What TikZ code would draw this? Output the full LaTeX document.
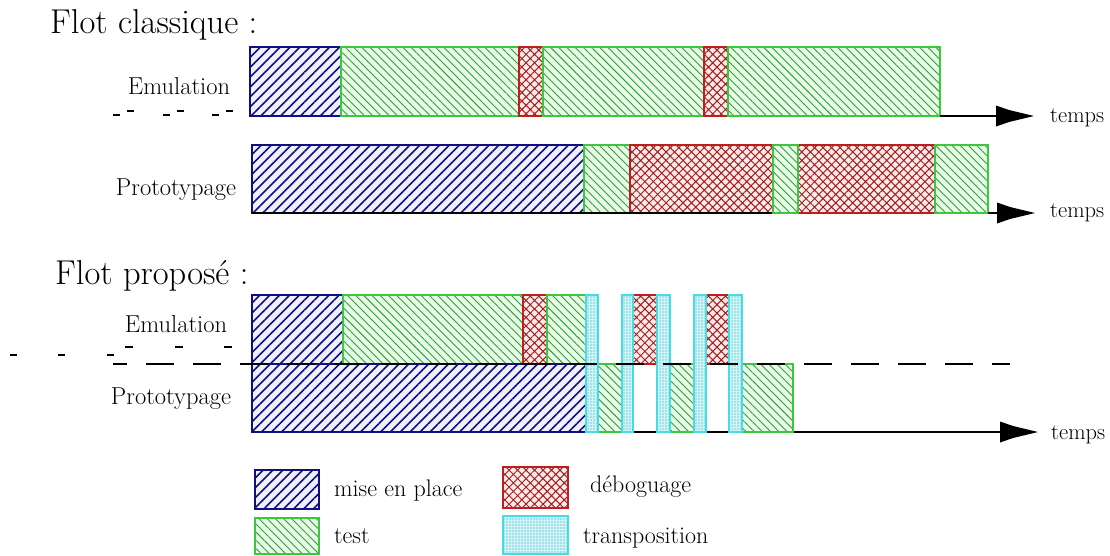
\documentclass[tikz,border=0pt]{standalone}
\usepackage{fontspec}
\usetikzlibrary{patterns.meta}
\definecolor{navyc}{RGB}{15,15,130}
\definecolor{mepfill}{RGB}{240,240,255}
\definecolor{greenc}{RGB}{60,200,60}
\definecolor{greenh}{RGB}{50,160,50}
\definecolor{testfill}{RGB}{232,250,232}
\definecolor{redc}{RGB}{190,30,30}
\definecolor{redh}{RGB}{160,30,30}
\definecolor{debfill}{RGB}{255,234,234}
\definecolor{cyanc}{RGB}{70,220,230}
\definecolor{cyanh}{RGB}{40,160,170}
\definecolor{trfill}{RGB}{205,245,248}
\tikzset{
  mep/.style={preaction={fill=mepfill},
    preaction={pattern={Lines[angle=45,distance=7pt,line width=1.6pt]},pattern color=navyc},
    draw=navyc, line width=1.2pt},
  tst/.style={preaction={fill=testfill},
    preaction={pattern={Lines[angle=-45,distance=5.8pt,line width=0.9pt]},pattern color=greenh},
    draw=greenc, line width=1.2pt},
  deb/.style={preaction={fill=debfill},
    preaction={pattern={Hatch[angle=45,distance=6pt,line width=1pt]},pattern color=redh},
    draw=redc, line width=1.2pt},
  trp/.style={preaction={fill=trfill},
    preaction={pattern={Dots[distance=3pt,radius=0.6pt]},pattern color=cyanh},
    draw=cyanc, line width=1.2pt},
  lbl/.style={font=\rmfamily\addfontfeatures{FakeBold=0.7}\fontsize{24.5}{27}\selectfont, inner sep=0pt},
  lgd/.style={font=\rmfamily\addfontfeatures{FakeBold=0.7}\fontsize{24}{27}\selectfont, inner sep=0pt},
  tms/.style={font=\rmfamily\addfontfeatures{FakeBold=0.7}\fontsize{22.5}{25}\selectfont, inner sep=0pt},
  ttl/.style={font=\rmfamily\addfontfeatures{FakeBold=0.7}\fontsize{34.5}{38}\selectfont, inner sep=0pt, anchor=base west},
  axis/.style={draw=black, line width=1.2pt},
  tick/.style={draw=black, line width=1.2pt},
  ahead/.style={fill=black},
}
\newcommand{\arrowheadat}[1]{\fill[ahead,shift={(#1)}] (0,-10.5) -- (13,-6) -- (38,0) -- (13,6) -- (0,10.5) -- cycle;}
\begin{document}
\begin{tikzpicture}[x=1pt,y=-1pt]
\useasboundingbox[fill=white] (0,0) rectangle (1110,555);

% titles
\node[ttl] (t1) at (50,33) {Flot classique :};
\node[ttl] (t2) at (55,284) {Flot proposé :};

% ---------- Flot classique : Emulation ----------
\path[mep] (250,47) rectangle (341,116);
\path[tst] (341,47) rectangle (519,116);
\path[deb] (519,47) rectangle (543,116);
\path[tst] (543,47) rectangle (704,116);
\path[deb] (704,47) rectangle (728,116);
\path[tst] (728,47) rectangle (940,116);
\coordinate (a1s) at (940,116);
\coordinate (a1e) at (996,116);
\draw[axis] (a1s) -- (a1e);
\arrowheadat{a1e}
\node[lbl, anchor=base] (em1) at (179,94) {Emulation};
\node[tms, anchor=base west] (tp1) at (1050,122) {temps};
\foreach \a in {113,163,212} {\draw[tick] (\a,115) -- ++(6.5,0);}
\foreach \a in {127,177,226} {\draw[tick] (\a,111) -- ++(6.5,0);}

% ---------- Flot classique : Prototypage ----------
\path[mep] (252,145) rectangle (584,213);
\path[tst] (584,145) rectangle (630,213);
\path[deb] (630,145) rectangle (773,213);
\path[deb] (798,145) rectangle (935,213);
\coordinate (b0) at (252,213);
\coordinate (b1) at (773,213);
\draw[axis] (b0) -- (b1);
\path[tst] (773,145) rectangle (798,213);
\path[tst] (935,145) rectangle (988,213);
\coordinate (a2s) at (988,213);
\coordinate (a2e) at (997,213);
\draw[axis] (a2s) -- (a2e);
\arrowheadat{a2e}
\node[lbl, anchor=base] (pr1) at (176,195) {Prototypage};
\node[tms, anchor=base west] (tp2) at (1050,217) {temps};

% ---------- Flot propose ----------
\coordinate (a3s) at (252,432);
\coordinate (a3e) at (1000,432);
\draw[axis] (a3s) -- (a3e);
\arrowheadat{a3e}
% top row
\path[mep] (252,295) rectangle (343,364);
\path[tst] (343,295) rectangle (523,364);
\path[deb] (523,295) rectangle (547,364);
\path[tst] (547,295) rectangle (586,364);
\path[deb] (633,295) rectangle (657,364);
\path[deb] (706,295) rectangle (729,364);
% bottom row
\path[mep] (252,364) rectangle (586,432);
\path[tst] (598,364) rectangle (622,432);
\path[tst] (670,364) rectangle (694,432);
\path[tst] (742,364) rectangle (793,432);
% transpositions
\path[trp] (586,295) rectangle (598,432);
\path[trp] (622,295) rectangle (633,432);
\path[trp] (657,295) rectangle (670,432);
\path[trp] (694,295) rectangle (706,432);
\path[trp] (729,295) rectangle (742,432);
% dashed separator
\coordinate (ds) at (113,364);
\coordinate (de) at (1010,364);
\draw[black, line width=1.3pt, dash pattern=on 28pt off 19pt, dash phase=14pt] (ds) -- (de);
\foreach \a in {10,58,107} {\draw[tick] (\a,355) -- ++(7,0);}
\foreach \a in {125,175,224} {\draw[tick] (\a,347) -- ++(8,0);}
\node[lbl, anchor=base] (em2) at (176,332) {Emulation};
\node[lbl, anchor=base] (pr2) at (171,404) {Prototypage};
\node[tms, anchor=base west] (tp3) at (1051,439) {temps};

% ---------- legend ----------
\path[mep] (255,470) rectangle (319,509);
\path[tst] (255,518) rectangle (319,554);
\path[deb] (503,467) rectangle (568,508);
\path[trp] (503,516) rectangle (568,554);
\node[lgd, anchor=base west] (l1) at (334,496) {mise en place};
\node[lgd, anchor=base west] (l2) at (334,543) {test};
\node[lgd, anchor=base west] (l3) at (590,492) {déboguage};
\node[lgd, anchor=base west] (l4) at (583,543) {transposition};
\end{tikzpicture}
\end{document}
